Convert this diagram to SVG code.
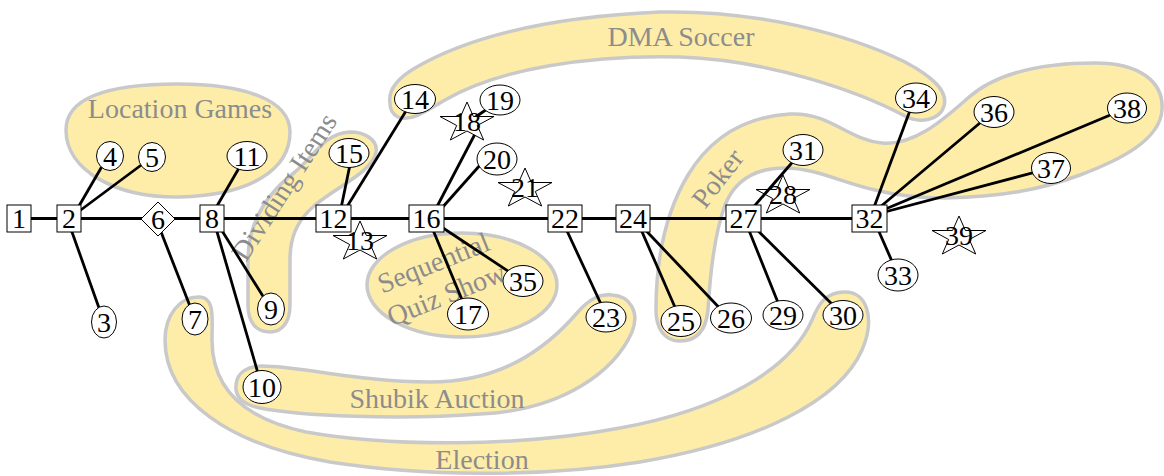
<svg xmlns="http://www.w3.org/2000/svg" width="1164" height="476" viewBox="0 0 1164 476">
<defs>
<style>
.blob{fill:#FEEDA9;stroke:#C9C9C9;stroke-width:3.5}
.lbl{font-family:"Liberation Serif","Times New Roman",serif;font-size:28px;fill:#8C8C8C;text-anchor:middle}
.edge line{stroke:#000;stroke-width:2.8}
.shape{fill:#fff;stroke:#000;stroke-width:1}
.hollow{fill:none;stroke:#000;stroke-width:1}
.t{font-family:"Liberation Serif","Times New Roman",serif;font-size:28px;fill:#000;text-anchor:middle}
</style>
<polygon id="star" points="0,-21 6.4,-6.5 27,-6.5 10.3,2.5 16.7,17 0,8 -16.7,17 -10.3,2.5 -27,-6.5 -6.4,-6.5"/>
</defs>
<rect width="1164" height="476" fill="#fff"/>

<!-- groups (shaded regions) -->
<g id="grp-location">
<path class="blob" d="M66,130 C66,95 115,84 178,84 C245,84 290,100 290,132 C290,170 250,195 180,197 C115,198 66,170 66,130 Z"/>
<text class="lbl" x="180" y="118">Location Games</text>
</g>
<g id="grp-dma">
<path class="blob" d="M390,103 C388,90 398,78 415,68 C480,30 570,16 660,12 C760,10 850,35 905,62 C935,78 948,92 944,106 C940,120 920,124 905,116 C860,92 770,60 680,57 C590,55 500,68 445,100 C425,112 410,122 398,117 C392,114 390,109 390,103 Z"/>
<text class="lbl" x="681" y="46">DMA Soccer</text>
</g>
<g id="grp-dividing">
<path class="blob" d="M350,132 C365,132 378,140 376,152 C372,172 340,185 315,205 C295,222 290,240 290,260 L290,305 C290,322 282,332 270,332 C256,332 248,322 248,305 L248,260 C248,225 265,195 295,172 C315,155 325,133 350,132 Z"/>
<text class="lbl" transform="translate(292,192) rotate(-57)">Dividing Items</text>
</g>
<g id="grp-quiz">
<ellipse class="blob" cx="462" cy="285" rx="95" ry="52"/>
<g transform="translate(440,279) rotate(-22)">
<text class="lbl" x="0" y="-8">Sequential</text>
<text class="lbl" x="0" y="26">Quiz Show</text>
</g>
</g>
<g id="grp-shubik">
<path class="blob" d="M262,366 C300,366 360,382 430,382 C500,382 545,350 577,313 C590,298 600,294 612,295 C630,296 640,312 632,332 C615,370 565,410 480,414 C400,420 300,416 260,408 C240,404 235,395 236,385 C237,372 248,366 262,366 Z"/>
<text class="lbl" x="437" y="408">Shubik Auction</text>
</g>
<g id="grp-election">
<path class="blob" d="M200,297 C180,296 165,315 165,340 C165,400 230,445 330,462 C420,476 540,478 640,462 C760,442 840,400 862,350 C875,320 868,292 845,292 C825,292 818,305 812,320 C790,370 720,410 620,428 C520,447 390,447 306,432 C240,418 212,385 212,340 C212,318 215,298 200,297 Z"/>
<text class="lbl" x="482" y="469">Election</text>
</g>
<g id="grp-poker">
<path class="blob" d="M680,341 C664,341 656,328 656,310 C656,265 664,215 688,175 C708,142 740,117 790,114 C830,112 848,140 882,143 C915,146 945,118 968,98 C995,74 1040,63 1095,63 C1140,63 1164,82 1162,110 C1160,140 1120,160 1080,175 C1040,190 1000,197 945,198 C915,198 895,195 875,190 C840,182 815,168 785,168 C755,168 735,180 725,205 C714,235 710,275 708,310 C706,330 697,341 680,341 Z"/>
<text class="lbl" transform="translate(725,184) rotate(-52)">Poker</text>
</g>

<!-- connectors -->
<g id="edges" class="edge">
<line x1="19" y1="218.5" x2="69" y2="218.5"/>
<line x1="69" y1="218.5" x2="158" y2="218.5"/>
<line x1="158" y1="218.5" x2="212" y2="218.5"/>
<line x1="212" y1="218.5" x2="333" y2="218.5"/>
<line x1="333" y1="218.5" x2="426" y2="218.5"/>
<line x1="426" y1="218.5" x2="565" y2="218.5"/>
<line x1="565" y1="218.5" x2="633" y2="218.5"/>
<line x1="633" y1="218.5" x2="744" y2="218.5"/>
<line x1="744" y1="218.5" x2="869" y2="218.5"/>
<line x1="67" y1="218" x2="104" y2="322"/>
<line x1="72" y1="218" x2="108" y2="156"/>
<line x1="70" y1="218" x2="152" y2="157"/>
<line x1="156" y1="219" x2="195" y2="319"/>
<line x1="210" y1="218" x2="246" y2="156"/>
<line x1="214" y1="218" x2="271" y2="309"/>
<line x1="213" y1="218" x2="262" y2="387"/>
<line x1="339" y1="218" x2="352" y2="155"/>
<line x1="340" y1="218" x2="414" y2="98"/>
<line x1="431" y1="218" x2="475" y2="134"/>
<line x1="467" y1="123" x2="500" y2="100"/>
<line x1="433" y1="218" x2="489" y2="155"/>
<line x1="428" y1="218" x2="468" y2="314"/>
<line x1="428" y1="218" x2="523" y2="281"/>
<line x1="561" y1="218" x2="607" y2="317"/>
<line x1="636" y1="218" x2="681" y2="321"/>
<line x1="634" y1="218" x2="729" y2="318"/>
<line x1="744" y1="218" x2="783" y2="315"/>
<line x1="745" y1="218" x2="843" y2="315"/>
<line x1="744" y1="218" x2="803" y2="150"/>
<line x1="873" y1="218" x2="898" y2="275"/>
<line x1="870" y1="218" x2="915" y2="97"/>
<line x1="867" y1="218" x2="993" y2="112"/>
<line x1="864" y1="218" x2="1127" y2="108"/>
<line x1="862" y1="218" x2="1051" y2="168"/>
</g>

<!-- nodes -->
<g id="n1"><rect class="shape" x="7" y="205" width="24" height="27"/><text class="t" x="19" y="228">1</text></g>
<g id="n2"><rect class="shape" x="57" y="205" width="24" height="27"/><text class="t" x="69" y="228">2</text></g>
<g id="n3"><ellipse class="shape" cx="104" cy="322" rx="12.5" ry="16"/><text class="t" x="104" y="331.5">3</text></g>
<g id="n4"><ellipse class="shape" cx="110" cy="156" rx="13.5" ry="14.5"/><text class="t" x="110" y="165.5">4</text></g>
<g id="n5"><ellipse class="shape" cx="152" cy="157" rx="13.5" ry="14.5"/><text class="t" x="152" y="166.5">5</text></g>
<g id="n6"><polygon class="shape" points="158,202 175,219 158,236 141,219"/><text class="t" x="158" y="228.5">6</text></g>
<g id="n7"><ellipse class="shape" cx="195" cy="319" rx="13" ry="16"/><text class="t" x="195" y="328.5">7</text></g>
<g id="n8"><rect class="shape" x="200" y="205" width="24" height="27"/><text class="t" x="212" y="228">8</text></g>
<g id="n9"><ellipse class="shape" cx="271" cy="309" rx="13.5" ry="16"/><text class="t" x="271" y="318.5">9</text></g>
<g id="n10"><ellipse class="shape" cx="262" cy="387" rx="19" ry="16.5"/><text class="t" x="262" y="396.5">10</text></g>
<g id="n11"><ellipse class="shape" cx="247" cy="156" rx="20" ry="14.5"/><text class="t" x="247" y="165.5">11</text></g>
<g id="n12"><rect class="shape" x="316" y="205" width="35" height="27"/><text class="t" x="333.5" y="228">12</text></g>
<g id="n13"><use href="#star" class="shape" x="360" y="242"/><text class="t" x="360" y="250">13</text></g>
<g id="n14"><ellipse class="shape" cx="415" cy="99" rx="20.5" ry="14.5"/><text class="t" x="415" y="108.5">14</text></g>
<g id="n15"><ellipse class="shape" cx="349" cy="153" rx="20" ry="14.5"/><text class="t" x="349" y="162.5">15</text></g>
<g id="n16"><rect class="shape" x="409" y="205" width="35" height="27"/><text class="t" x="426.5" y="228">16</text></g>
<g id="n17"><ellipse class="shape" cx="468" cy="314" rx="20.5" ry="16"/><text class="t" x="468" y="323.5">17</text></g>
<g id="n18"><use href="#star" class="shape" x="467" y="123"/><text class="t" x="467" y="131">18</text></g>
<g id="n19"><ellipse class="shape" cx="500" cy="100" rx="20" ry="15"/><text class="t" x="500" y="109.5">19</text></g>
<g id="n20"><ellipse class="shape" cx="497" cy="159" rx="20" ry="16"/><text class="t" x="497" y="168.5">20</text></g>
<g id="n21"><use href="#star" class="shape" x="525" y="189"/><text class="t" x="525" y="197">21</text></g>
<g id="n22"><rect class="shape" x="548" y="205" width="34" height="27"/><text class="t" x="565" y="228">22</text></g>
<g id="n23"><ellipse class="shape" cx="606" cy="317" rx="20" ry="15"/><text class="t" x="606" y="326.5">23</text></g>
<g id="n24"><rect class="shape" x="616" y="205" width="34" height="27"/><text class="t" x="633" y="228">24</text></g>
<g id="n25"><ellipse class="shape" cx="681" cy="321" rx="20" ry="15.5"/><text class="t" x="681" y="330.5">25</text></g>
<g id="n26"><ellipse class="shape" cx="731" cy="318" rx="20.5" ry="15"/><text class="t" x="731" y="327.5">26</text></g>
<g id="n27"><rect class="shape" x="726" y="205" width="35" height="27"/><text class="t" x="743.5" y="228">27</text></g>
<g id="n28"><use href="#star" class="hollow" x="783" y="196"/><text class="t" x="783" y="204">28</text></g>
<g id="n29"><ellipse class="shape" cx="783" cy="315" rx="20" ry="14.5"/><text class="t" x="783" y="324.5">29</text></g>
<g id="n30"><ellipse class="shape" cx="843" cy="315" rx="20" ry="14.5"/><text class="t" x="843" y="324.5">30</text></g>
<g id="n31"><ellipse class="shape" cx="803" cy="150" rx="20" ry="15.5"/><text class="t" x="803" y="159.5">31</text></g>
<g id="n32"><rect class="shape" x="852" y="205" width="35" height="27"/><text class="t" x="869.5" y="228">32</text></g>
<g id="n33"><ellipse class="shape" cx="898" cy="275" rx="20" ry="16"/><text class="t" x="898" y="284.5">33</text></g>
<g id="n34"><ellipse class="shape" cx="916" cy="98" rx="20.5" ry="15"/><text class="t" x="916" y="107.5">34</text></g>
<g id="n35"><ellipse class="shape" cx="523" cy="281" rx="20" ry="15.5"/><text class="t" x="523" y="290.5">35</text></g>
<g id="n36"><ellipse class="shape" cx="994" cy="112" rx="20" ry="15.5"/><text class="t" x="994" y="121.5">36</text></g>
<g id="n37"><ellipse class="shape" cx="1051" cy="168" rx="19.5" ry="15.5"/><text class="t" x="1051" y="177.5">37</text></g>
<g id="n38"><ellipse class="shape" cx="1127" cy="108" rx="19.5" ry="15"/><text class="t" x="1127" y="117.5">38</text></g>
<g id="n39"><use href="#star" class="shape" x="959" y="237"/><text class="t" x="959" y="245">39</text></g>
</svg>
